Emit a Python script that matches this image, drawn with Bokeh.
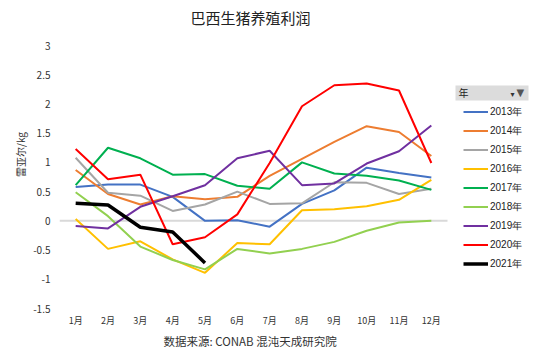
from bokeh.plotting import figure
from bokeh.models import Legend, LegendItem, Label, FixedTicker, Range1d, BoxAnnotation, Title
from bokeh.embed import file_html
from bokeh.resources import INLINE

months = ["1月", "2月", "3月", "4月", "5月", "6月", "7月", "8月", "9月", "10月", "11月", "12月"]
y2013 = [0.58, 0.62, 0.62, 0.41, 0.00, 0.01, -0.10, 0.29, 0.52, 0.91, 0.82, 0.74]
y2014 = [0.87, 0.46, 0.28, 0.42, 0.37, 0.41, 0.77, 1.06, 1.35, 1.62, 1.52, 1.11]
y2015 = [1.08, 0.48, 0.43, 0.17, 0.28, 0.50, 0.29, 0.30, 0.66, 0.65, 0.46, 0.55]
y2016 = [0.03, -0.48, -0.35, -0.66, -0.89, -0.38, -0.40, 0.18, 0.20, 0.25, 0.36, 0.70]
y2017 = [0.61, 1.25, 1.07, 0.79, 0.80, 0.60, 0.55, 1.00, 0.81, 0.77, 0.69, 0.53]
y2018 = [0.49, 0.08, -0.44, -0.67, -0.83, -0.48, -0.56, -0.48, -0.36, -0.17, -0.03, 0.00]
y2019 = [-0.09, -0.13, 0.24, 0.42, 0.61, 1.07, 1.20, 0.61, 0.64, 0.98, 1.19, 1.63]
y2020 = [1.23, 0.71, 0.79, -0.40, -0.28, 0.11, 0.99, 1.96, 2.32, 2.35, 2.23, 0.99]
y2021 = [0.30, 0.27, -0.11, -0.19, -0.72]

years = ["2013年", "2014年", "2015年", "2016年", "2017年", "2018年", "2019年", "2020年", "2021年"]
series = [y2013, y2014, y2015, y2016, y2017, y2018, y2019, y2020, y2021]
colors = ["#4472c4", "#ed7d31", "#a5a5a5", "#ffc000", "#00b050", "#92d050", "#7030a0", "#ff0000", "#000000"]
widths = [2, 2, 2, 2, 2, 2, 2, 2, 3.5]
yticks = [-1.5, -1, -0.5, 0, 0.5, 1, 1.5, 2, 2.5, 3]
title_text = "巴西生猪养殖利润"
source_text = "数据来源: CONAB 混沌天成研究院"

FONT = "Noto Sans CJK SC"
xs = list(range(1, 13))

# The months occupy 388 x 263 px; the frame is enlarged to the right (legend)
# and upward (title) so that those annotations are not clipped.
FRAME_W, FRAME_H = 496, 308
PX_PER_MONTH = 388 / 12
PX_PER_UNIT = 263 / (yticks[-1] - yticks[0])
x_end = 0.5 + FRAME_W / PX_PER_MONTH
y_top = yticks[0] + FRAME_H / PX_PER_UNIT

p = figure(title=None, frame_width=FRAME_W, frame_height=FRAME_H, output_backend="svg",
           toolbar_location=None,
           x_range=Range1d(0.5, x_end), y_range=Range1d(yticks[0], y_top),
           min_border_left=59, min_border_right=0, min_border_top=0, min_border_bottom=54)
p.outline_line_color = None
p.background_fill_color = "white"
p.border_fill_color = "white"

p.xaxis.ticker = FixedTicker(ticks=xs)
p.xaxis.major_label_overrides = {i + 1: m for i, m in enumerate(months)}
p.yaxis.ticker = FixedTicker(ticks=yticks)
p.yaxis.major_label_overrides = {t: ("%g" % t) for t in yticks}
for ax in (p.xaxis[0], p.yaxis[0]):
    ax.axis_line_color = None
    ax.major_tick_line_color = None
    ax.minor_tick_line_color = None
    ax.major_tick_out = 0
    ax.major_tick_in = 0
    ax.major_label_text_font = FONT
    ax.major_label_text_color = "#333333"
p.xaxis.major_label_text_font_size = "9px"
p.yaxis.major_label_text_font_size = "10px"
p.xaxis.major_label_standoff = 5
p.yaxis.major_label_standoff = 9
p.yaxis.axis_label = "雷亚尔/kg"
p.yaxis.axis_label_text_font = FONT
p.yaxis.axis_label_text_font_size = "10px"
p.yaxis.axis_label_text_font_style = "normal"
p.yaxis.axis_label_text_color = "#333333"
p.yaxis.axis_label_standoff = 2

p.add_layout(Title(text=source_text, align="left", offset=104,
                   text_font=FONT, text_font_size="11.5px", text_font_style="normal",
                   text_color="#333333", standoff=2), "below")

p.xgrid.grid_line_color = None
p.ygrid.grid_line_color = None

# chart title (inside the enlarged frame)
p.add_layout(Label(x=131, y=FRAME_H - 17, x_units="screen", y_units="screen", text=title_text,
                   text_font=FONT, text_font_size="15px", text_baseline="middle",
                   text_color="#222222"))

# zero reference line across the months
p.line([xs[0] - 0.5, xs[-1] + 0.5], [0, 0], line_color="#d9d9d9", line_width=2)

items = []
for name, ys, c, w in zip(years, series, colors, widths):
    r = p.line(xs[:len(ys)], ys, line_color=c, line_width=w)
    items.append(LegendItem(label=name, renderers=[r]))

legend = Legend(items=items, location=(404, 36), orientation="vertical",
                glyph_width=25, glyph_height=17, spacing=2, padding=0, margin=0,
                label_text_font="Liberation Sans", label_text_font_size="10px",
                label_text_color="#222222", label_standoff=2,
                border_line_color=None, background_fill_alpha=0)
p.add_layout(legend, "center")

# legend header (field button "年" with filter icon)
p.add_layout(BoxAnnotation(left=396, right=469, top=223, bottom=208,
                           left_units="screen", right_units="screen",
                           top_units="screen", bottom_units="screen",
                           fill_color="#dcdcdc", fill_alpha=1, line_color=None))
p.add_layout(Label(x=399, y=216, x_units="screen", y_units="screen", text="年",
                   text_font=FONT, text_font_size="10px", text_baseline="middle",
                   text_color="#222222"))
p.add_layout(Label(x=451, y=214, x_units="screen", y_units="screen", text="▾",
                   text_font="DejaVu Sans", text_font_size="8px", text_baseline="middle",
                   text_color="#333333"))
p.add_layout(Label(x=457, y=216, x_units="screen", y_units="screen", text="▼",
                   text_font="DejaVu Sans", text_font_size="10px", text_baseline="middle",
                   text_color="#555555"))

open("out.html", "w").write(file_html(p, INLINE))
